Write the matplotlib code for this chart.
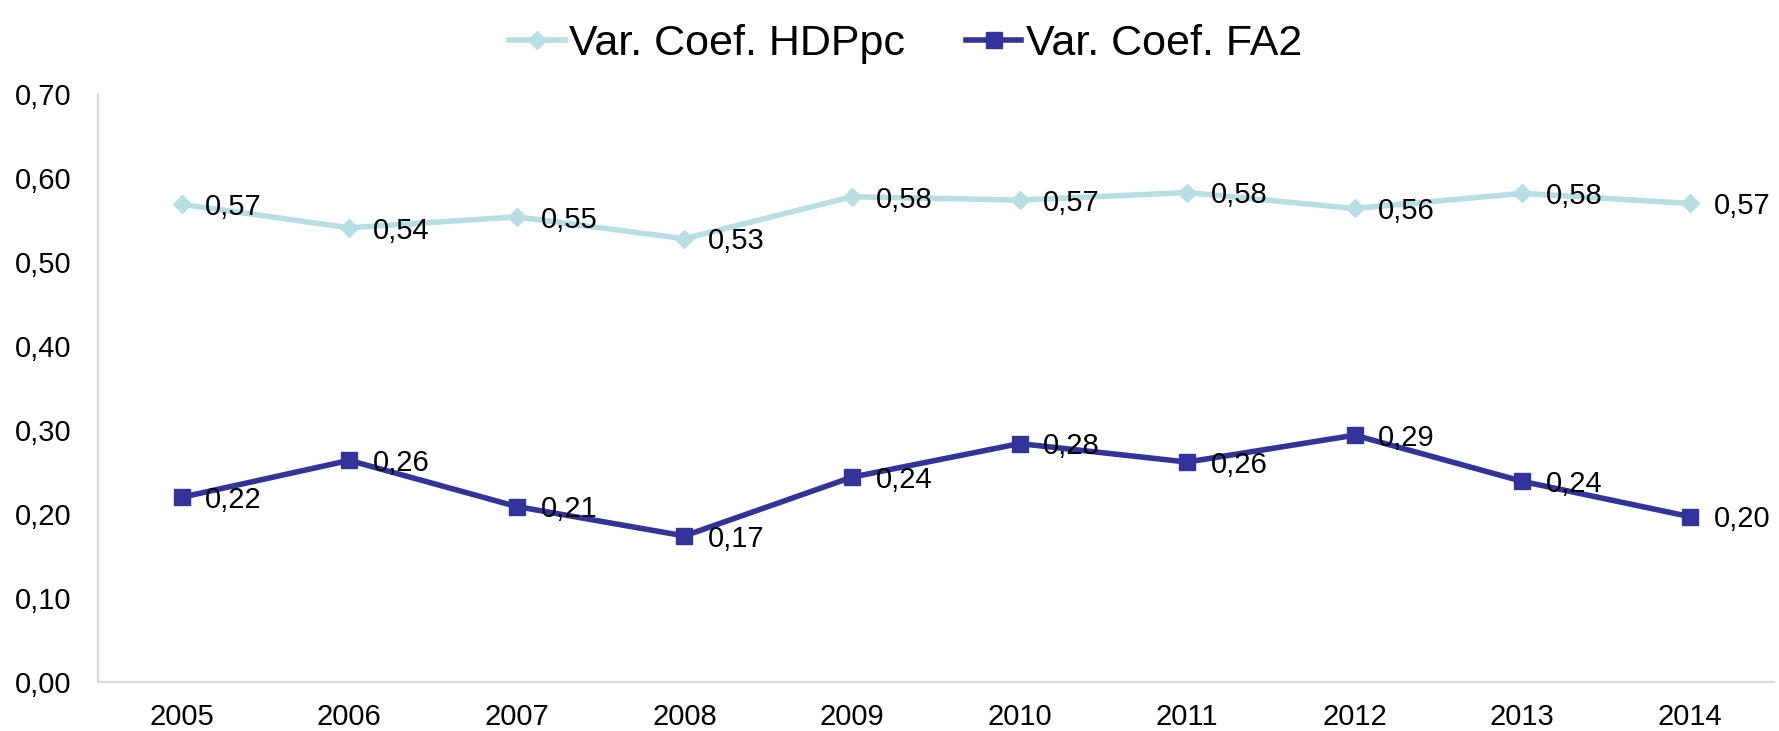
import matplotlib.pyplot as plt
from matplotlib.ticker import FuncFormatter

plt.rcParams['font.family'] = ['Liberation Sans', 'DejaVu Sans']

# dados
anos = ["2005", "2006", "2007", "2008", "2009", "2010", "2011", "2012", "2013", "2014"]
cv_hdppc = [0.569, 0.541, 0.554, 0.528, 0.578, 0.574, 0.583, 0.564, 0.582, 0.570]
cv_fa2 = [0.220, 0.264, 0.209, 0.174, 0.244, 0.284, 0.262, 0.294, 0.239, 0.197]

cor_hdp = '#B7DEE2'
cor_fa2 = '#333399'

fig = plt.figure(figsize=(17.79, 7.31), dpi=100)
ax = fig.add_axes([0.055, 0.067, 0.942, 0.804])

x = range(len(anos))
ax.plot(x, cv_hdppc, color=cor_hdp, linewidth=4, marker='D', markersize=9.5,
        label='Var. Coef. HDPpc')
ax.plot(x, cv_fa2, color=cor_fa2, linewidth=4, marker='s', markersize=11.5,
        label='Var. Coef. FA2')

# rótulos de dados à direita de cada ponto
for serie in (cv_hdppc, cv_fa2):
    for i, v in enumerate(serie):
        ax.annotate(f'{v:.2f}'.replace('.', ','), (i, v), xytext=(17, -2),
                    textcoords='offset points', ha='left', va='center',
                    fontsize=21, color='black')

ax.set_xlim(-0.5, len(anos) - 0.5)
ax.set_ylim(0, 0.7)
ax.set_xticks(list(x))
ax.set_xticklabels(anos)
ax.set_yticks([i / 10 for i in range(8)])
ax.yaxis.set_major_formatter(FuncFormatter(lambda v, p: f'{v:.2f}'.replace('.', ',')))
ax.tick_params(axis='both', length=0, colors='black', labelsize=21)
ax.tick_params(axis='y', pad=19)
ax.tick_params(axis='x', pad=15)

for lado in ('top', 'right'):
    ax.spines[lado].set_visible(False)
ax.spines['left'].set_color('#D9D9D9')
ax.spines['bottom'].set_color('#D9D9D9')
ax.spines['left'].set_linewidth(1.5)
ax.spines['bottom'].set_linewidth(1.5)

fig.legend(loc='upper center', bbox_to_anchor=(0.509, 1.02), ncol=2, frameon=False,
           fontsize=31, handlelength=1.3, handletextpad=0.1, columnspacing=1.4)

plt.savefig('out.png', dpi=100)
